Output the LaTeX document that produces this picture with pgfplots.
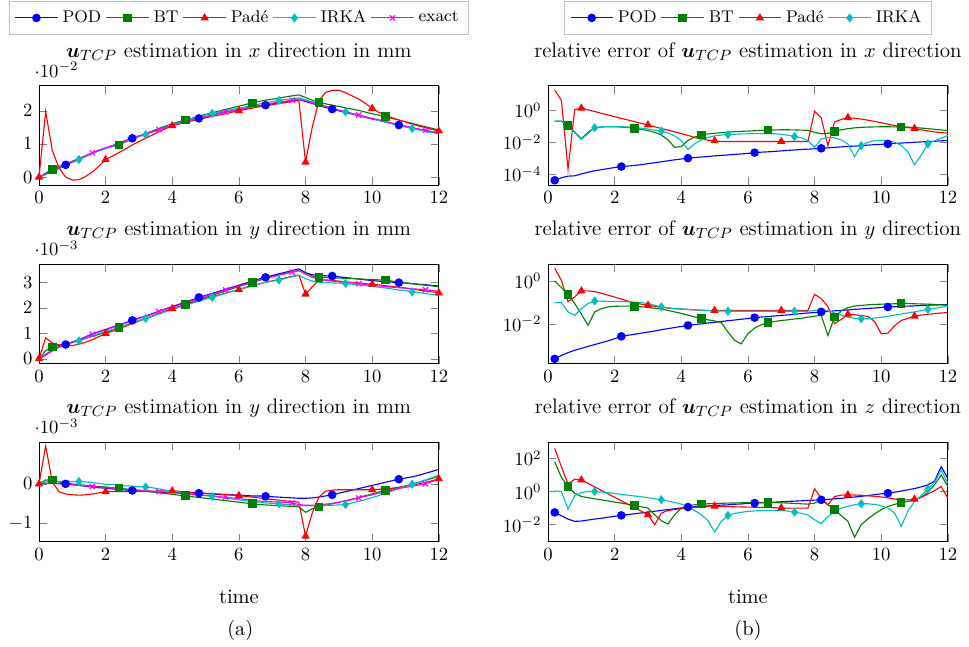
\documentclass[border=0pt]{standalone}
\usepackage{amsmath}
\usepackage{pgfplots}
\usepackage{pgfplotstable}
\pgfplotsset{compat=1.18}
\definecolor{cbt}{rgb}{0,0.5,0}
\definecolor{cirka}{rgb}{0,0.75,0.75}
\definecolor{cex}{rgb}{1,0,1}

\pgfplotstableread{
t POD BT Pade IRKA exact
0 0 0 0 0 0
0.2 0.0009 0.0012 0.0198 0.0008 0.0009
0.4 0.0018 0.0023 0.0080 0.0016 0.0018
0.6 0.0027 0.0032 0.0028 0.0025 0.0027
0.8 0.0037 0.0040 0.0000 0.0035 0.0037
1.0 0.0046 0.0048 -0.0009 0.0044 0.0046
1.2 0.0055 0.0056 -0.0008 0.0053 0.0055
1.4 0.0064 0.0064 0.0002 0.0062 0.0064
1.6 0.0073 0.0072 0.0015 0.0071 0.0073
1.8 0.0081 0.0080 0.0033 0.0079 0.0081
2.0 0.0088 0.0087 0.0053 0.0086 0.0088
2.2 0.0095 0.0092 0.0063 0.0093 0.0095
2.4 0.0102 0.0097 0.0074 0.0100 0.0102
2.6 0.0110 0.0106 0.0085 0.0108 0.0110
2.8 0.0117 0.0115 0.0097 0.0115 0.0117
3.0 0.0124 0.0123 0.0107 0.0122 0.0124
3.2 0.0130 0.0131 0.0117 0.0128 0.0130
3.4 0.0137 0.0139 0.0127 0.0136 0.0137
3.6 0.0144 0.0147 0.0137 0.0144 0.0144
3.8 0.0150 0.0154 0.0146 0.0151 0.0150
4.0 0.0156 0.0161 0.0155 0.0158 0.0156
4.2 0.0162 0.0167 0.0160 0.0164 0.0162
4.4 0.0167 0.0172 0.0165 0.0170 0.0167
4.6 0.0172 0.0178 0.0170 0.0176 0.0172
4.8 0.0177 0.0184 0.0174 0.0181 0.0177
5.0 0.0182 0.0189 0.0179 0.0187 0.0182
5.2 0.0187 0.0194 0.0183 0.0192 0.0187
5.4 0.0192 0.0199 0.0187 0.0196 0.0192
5.6 0.0196 0.0204 0.0191 0.0200 0.0196
5.8 0.0200 0.0209 0.0196 0.0204 0.0200
6.0 0.0204 0.0214 0.0200 0.0208 0.0204
6.2 0.0208 0.0219 0.0204 0.0212 0.0208
6.4 0.0212 0.0224 0.0208 0.0216 0.0212
6.6 0.0214 0.0228 0.0212 0.0220 0.0216
6.8 0.0217 0.0232 0.0215 0.0224 0.0219
7.0 0.0221 0.0235 0.0218 0.0228 0.0223
7.2 0.0224 0.0238 0.0222 0.0231 0.0226
7.4 0.0227 0.0242 0.0225 0.0234 0.0229
7.6 0.0230 0.0245 0.0228 0.0236 0.0232
7.8 0.0234 0.0248 0.0231 0.0239 0.0235
8.0 0.0228 0.0240 0.0045 0.0233 0.0230
8.2 0.0222 0.0232 0.0150 0.0227 0.0225
8.4 0.0216 0.0225 0.0230 0.0221 0.0220
8.6 0.0210 0.0221 0.0255 0.0214 0.0213
8.8 0.0205 0.0217 0.0262 0.0208 0.0207
9.0 0.0200 0.0213 0.0262 0.0202 0.0202
9.2 0.0195 0.0209 0.0255 0.0197 0.0197
9.4 0.0190 0.0205 0.0245 0.0191 0.0192
9.6 0.0185 0.0201 0.0235 0.0186 0.0187
9.8 0.0180 0.0196 0.0222 0.0181 0.0182
10.0 0.0175 0.0191 0.0207 0.0176 0.0177
10.2 0.0171 0.0187 0.0195 0.0171 0.0173
10.4 0.0166 0.0182 0.0187 0.0166 0.0168
10.6 0.0161 0.0177 0.0179 0.0161 0.0163
10.8 0.0157 0.0172 0.0172 0.0156 0.0158
11.0 0.0153 0.0167 0.0166 0.0151 0.0154
11.2 0.0148 0.0162 0.0160 0.0147 0.0149
11.4 0.0144 0.0157 0.0154 0.0142 0.0145
11.6 0.0140 0.0152 0.0149 0.0138 0.0141
11.8 0.0136 0.0147 0.0144 0.0134 0.0137
12.0 0.0133 0.0142 0.0139 0.0131 0.0134
}\tabTL

\pgfplotstableread{
t POD BT Pade IRKA exact
0 0 0 0 0 0
0.2 0.00017 0.00032 0.00082 0.00014 0.00015
0.4 0.00034 0.00046 0.00062 0.00030 0.00032
0.6 0.00047 0.00052 0.00055 0.00045 0.00045
0.8 0.00056 0.00058 0.00052 0.00055 0.00056
1.0 0.00066 0.00065 0.00052 0.00063 0.00065
1.2 0.00075 0.00072 0.00057 0.00070 0.00073
1.4 0.00086 0.00080 0.00065 0.00080 0.00084
1.6 0.00098 0.00088 0.00075 0.00090 0.00096
1.8 0.00107 0.00096 0.00087 0.00099 0.00105
2.0 0.00115 0.00104 0.00099 0.00107 0.00113
2.2 0.00124 0.00113 0.00108 0.00115 0.00122
2.4 0.00133 0.00122 0.00118 0.00123 0.00131
2.6 0.00142 0.00131 0.00128 0.00132 0.00140
2.8 0.00151 0.00140 0.00138 0.00141 0.00149
3.0 0.00160 0.00149 0.00148 0.00150 0.00158
3.2 0.00168 0.00158 0.00158 0.00158 0.00166
3.4 0.00177 0.00167 0.00168 0.00167 0.00175
3.6 0.00187 0.00177 0.00178 0.00176 0.00186
3.8 0.00196 0.00186 0.00188 0.00185 0.00194
4.0 0.00205 0.00196 0.00197 0.00194 0.00202
4.2 0.00214 0.00205 0.00205 0.00202 0.00211
4.4 0.00223 0.00214 0.00213 0.00210 0.00219
4.6 0.00232 0.00223 0.00221 0.00218 0.00228
4.8 0.00241 0.00232 0.00229 0.00226 0.00238
5.0 0.00249 0.00241 0.00236 0.00234 0.00246
5.2 0.00257 0.00250 0.00244 0.00241 0.00254
5.4 0.00265 0.00258 0.00251 0.00249 0.00262
5.6 0.00273 0.00267 0.00258 0.00257 0.00270
5.8 0.00281 0.00275 0.00265 0.00265 0.00278
6.0 0.00289 0.00284 0.00272 0.00273 0.00286
6.2 0.00297 0.00292 0.00279 0.00281 0.00293
6.4 0.00305 0.00300 0.00286 0.00288 0.00301
6.6 0.00313 0.00308 0.00293 0.00294 0.00309
6.8 0.00320 0.00316 0.00300 0.00300 0.00316
7.0 0.00327 0.00323 0.00306 0.00305 0.00322
7.2 0.00334 0.00330 0.00312 0.00309 0.00328
7.4 0.00340 0.00336 0.00318 0.00316 0.00334
7.6 0.00347 0.00342 0.00324 0.00322 0.00340
7.8 0.00353 0.00347 0.00329 0.00328 0.00346
8.0 0.00338 0.00335 0.00254 0.00315 0.00333
8.2 0.00330 0.00325 0.00282 0.00305 0.00320
8.4 0.00327 0.00320 0.00309 0.00300 0.00312
8.6 0.00326 0.00319 0.00310 0.00299 0.00308
8.8 0.00325 0.00318 0.00308 0.00298 0.00305
9.0 0.00322 0.00317 0.00305 0.00297 0.00302
9.2 0.00319 0.00316 0.00302 0.00296 0.00300
9.4 0.00316 0.00315 0.00300 0.00293 0.00298
9.6 0.00313 0.00314 0.00298 0.00290 0.00295
9.8 0.00310 0.00312 0.00295 0.00287 0.00292
10.0 0.00307 0.00311 0.00293 0.00284 0.00289
10.2 0.00305 0.00310 0.00290 0.00281 0.00286
10.4 0.00303 0.00309 0.00287 0.00278 0.00284
10.6 0.00301 0.00305 0.00284 0.00274 0.00281
10.8 0.00299 0.00301 0.00281 0.00270 0.00279
11.0 0.00297 0.00298 0.00278 0.00267 0.00277
11.2 0.00295 0.00295 0.00274 0.00263 0.00275
11.4 0.00293 0.00292 0.00270 0.00260 0.00273
11.6 0.00291 0.00289 0.00266 0.00256 0.00271
11.8 0.00288 0.00286 0.00263 0.00253 0.00268
12.0 0.00286 0.00283 0.00259 0.00250 0.00265
}\tabML

\pgfplotstableread{
t POD BT Pade IRKA exact
0 0 0 0 0 0
0.2 0.00002 0.00010 0.00097 0.00005 0.00001
0.4 0.00002 0.00010 0.00005 0.00006 0.00001
0.6 0.00001 0.00005 -0.00020 0.00006 0
0.8 0 0.00002 -0.00026 0.00006 -0.00001
1.0 -0.00002 0 -0.00028 0.00006 -0.00002
1.2 -0.00004 -0.00002 -0.00029 0.00006 -0.00004
1.4 -0.00006 -0.00004 -0.00028 0.00005 -0.00005
1.6 -0.00008 -0.00005 -0.00026 0.00003 -0.00007
1.8 -0.00010 -0.00007 -0.00023 0.00001 -0.00008
2.0 -0.00011 -0.00008 -0.00020 -0.00001 -0.00010
2.2 -0.00013 -0.00010 -0.00020 -0.00002 -0.00011
2.4 -0.00014 -0.00011 -0.00020 -0.00004 -0.00013
2.6 -0.00016 -0.00013 -0.00020 -0.00005 -0.00014
2.8 -0.00017 -0.00015 -0.00019 -0.00006 -0.00015
3.0 -0.00018 -0.00017 -0.00019 -0.00007 -0.00016
3.2 -0.00019 -0.00019 -0.00019 -0.00008 -0.00017
3.4 -0.00020 -0.00021 -0.00019 -0.00010 -0.00019
3.6 -0.00021 -0.00023 -0.00018 -0.00013 -0.00020
3.8 -0.00022 -0.00025 -0.00018 -0.00016 -0.00021
4.0 -0.00022 -0.00027 -0.00018 -0.00019 -0.00022
4.2 -0.00023 -0.00029 -0.00019 -0.00021 -0.00024
4.4 -0.00023 -0.00030 -0.00021 -0.00024 -0.00025
4.6 -0.00024 -0.00033 -0.00022 -0.00026 -0.00027
4.8 -0.00024 -0.00035 -0.00023 -0.00028 -0.00028
5.0 -0.00025 -0.00037 -0.00024 -0.00030 -0.00030
5.2 -0.00026 -0.00039 -0.00025 -0.00032 -0.00031
5.4 -0.00027 -0.00041 -0.00026 -0.00034 -0.00033
5.6 -0.00028 -0.00043 -0.00027 -0.00037 -0.00034
5.8 -0.00028 -0.00045 -0.00029 -0.00039 -0.00036
6.0 -0.00029 -0.00047 -0.00030 -0.00041 -0.00038
6.2 -0.00030 -0.00049 -0.00032 -0.00043 -0.00040
6.4 -0.00031 -0.00051 -0.00034 -0.00045 -0.00042
6.6 -0.00031 -0.00053 -0.00036 -0.00047 -0.00044
6.8 -0.00032 -0.00054 -0.00038 -0.00049 -0.00045
7.0 -0.00033 -0.00055 -0.00040 -0.00050 -0.00046
7.2 -0.00034 -0.00056 -0.00042 -0.00051 -0.00047
7.4 -0.00035 -0.00057 -0.00044 -0.00053 -0.00048
7.6 -0.00036 -0.00058 -0.00045 -0.00054 -0.00049
7.8 -0.00037 -0.00059 -0.00047 -0.00055 -0.00053
8.0 -0.00037 -0.00073 -0.00134 -0.00056 -0.00055
8.2 -0.00036 -0.00064 -0.00075 -0.00056 -0.00055
8.4 -0.00034 -0.00059 -0.00034 -0.00056 -0.00054
8.6 -0.00031 -0.00055 -0.00019 -0.00055 -0.00052
8.8 -0.00028 -0.00051 -0.00016 -0.00055 -0.00050
9.0 -0.00024 -0.00047 -0.00015 -0.00054 -0.00047
9.2 -0.00020 -0.00043 -0.00015 -0.00053 -0.00044
9.4 -0.00016 -0.00039 -0.00015 -0.00049 -0.00040
9.6 -0.00012 -0.00035 -0.00015 -0.00045 -0.00036
9.8 -0.00008 -0.00030 -0.00015 -0.00040 -0.00032
10.0 -0.00004 -0.00026 -0.00015 -0.00035 -0.00028
10.2 0 -0.00021 -0.00014 -0.00030 -0.00024
10.4 0.00004 -0.00017 -0.00013 -0.00024 -0.00020
10.6 0.00008 -0.00013 -0.00011 -0.00018 -0.00016
10.8 0.00012 -0.00009 -0.00009 -0.00012 -0.00012
11.0 0.00015 -0.00005 -0.00006 -0.00006 -0.00009
11.2 0.00018 -0.00001 -0.00003 -0.00001 -0.00006
11.4 0.00022 0.00004 0 0.00004 -0.00003
11.6 0.00027 0.00009 0.00004 0.00010 0
11.8 0.00032 0.00014 0.00008 0.00016 0.00006
12.0 0.00037 0.00020 0.00013 0.00023 0.00012
}\tabBL

\pgfplotstableread{
t POD BT Pade IRKA
0.2 4.17e-5 0.204 18.2 0.204
0.4 6.03e-5 0.204 4.27 0.204
0.6 7.59e-5 0.112 2.09e-4 0.112
0.8 7.94e-5 4.27e-2 1.10 3.98e-2
1.0 1.05e-4 1.62e-2 1.35 1.48e-2
1.2 1.32e-4 4.27e-2 1.07 3.55e-2
1.4 1.66e-4 8.13e-2 0.832 8.13e-2
1.6 1.91e-4 8.91e-2 0.646 9.33e-2
1.8 2.24e-4 9.33e-2 0.513 9.55e-2
2.0 2.63e-4 9.33e-2 0.398 9.55e-2
2.2 3.02e-4 8.91e-2 0.309 9.33e-2
2.4 3.24e-4 8.32e-2 0.245 8.91e-2
2.6 3.55e-4 7.08e-2 0.191 8.32e-2
2.8 3.98e-4 6.31e-2 0.151 7.59e-2
3.0 4.57e-4 5.37e-2 0.120 6.76e-2
3.2 5.25e-4 4.17e-2 9.33e-2 5.75e-2
3.4 6.03e-4 2.82e-2 7.24e-2 5.01e-2
3.6 6.92e-4 1.41e-2 5.75e-2 3.80e-2
3.8 7.94e-4 4.79e-3 4.47e-2 2.51e-2
4.0 8.91e-4 5.37e-3 3.47e-2 1.26e-2
4.2 1.02e-3 1.29e-2 2.69e-2 3.47e-3
4.4 1.10e-3 2.09e-2 2.00e-2 7.94e-3
4.6 1.20e-3 2.88e-2 1.58e-2 1.41e-2
4.8 1.29e-3 3.31e-2 1.35e-2 2.00e-2
5.0 1.41e-3 3.63e-2 1.23e-2 2.51e-2
5.2 1.51e-3 3.98e-2 1.12e-2 2.82e-2
5.4 1.62e-3 4.27e-2 1.12e-2 3.02e-2
5.6 1.74e-3 4.57e-2 1.12e-2 3.16e-2
5.8 1.86e-3 4.79e-2 1.12e-2 3.31e-2
6.0 2.00e-3 5.01e-2 1.12e-2 3.39e-2
6.2 2.24e-3 5.25e-2 1.12e-2 3.47e-2
6.4 2.40e-3 5.50e-2 1.12e-2 3.47e-2
6.6 2.51e-3 5.75e-2 1.12e-2 3.47e-2
6.8 2.69e-3 5.89e-2 1.12e-2 3.39e-2
7.0 2.88e-3 6.03e-2 1.12e-2 3.16e-2
7.2 3.09e-3 6.03e-2 1.12e-2 2.75e-2
7.4 3.31e-3 5.89e-2 1.12e-2 2.29e-2
7.6 3.55e-3 5.75e-2 1.12e-2 1.91e-2
7.8 3.72e-3 5.50e-2 1.12e-2 1.26e-2
8.0 3.89e-3 4.17e-2 0.871 4.79e-3
8.2 4.17e-3 3.39e-2 0.331 1.62e-2
8.4 4.47e-3 3.63e-2 6.17e-3 2.00e-2
8.6 4.79e-3 4.68e-2 0.182 1.91e-2
8.8 5.13e-3 6.03e-2 0.269 1.41e-2
9.0 5.50e-3 7.08e-2 0.347 7.94e-3
9.2 5.75e-3 7.94e-2 0.316 1.26e-3
9.4 6.17e-3 8.51e-2 0.282 6.17e-3
9.6 6.61e-3 8.91e-2 0.240 1.00e-2
9.8 7.08e-3 9.12e-2 0.200 1.26e-2
10.0 7.41e-3 9.33e-2 0.166 1.32e-2
10.2 7.94e-3 9.33e-2 0.135 1.26e-2
10.4 8.32e-3 9.12e-2 0.112 1.00e-2
10.6 8.91e-3 8.91e-2 9.55e-2 6.31e-3
10.8 9.33e-3 8.71e-2 8.32e-2 2.51e-3
11.0 1.00e-2 8.32e-2 7.24e-2 3.89e-4
11.2 1.05e-2 7.76e-2 6.03e-2 1.58e-3
11.4 1.10e-2 7.08e-2 5.13e-2 7.94e-3
11.6 1.15e-2 6.46e-2 4.47e-2 1.26e-2
11.8 1.23e-2 5.89e-2 3.98e-2 1.78e-2
12.0 1.29e-2 5.50e-2 3.72e-2 2.63e-2
}\tabTR

\pgfplotstableread{
t POD BT Pade IRKA
0.2 2.29e-4 1.00 3.80 9.55e-2
0.4 3.31e-4 0.490 1.07 9.55e-2
0.6 4.47e-4 0.229 0.105 3.55e-2
0.8 5.75e-4 8.71e-2 0.178 2.45e-2
1.0 7.08e-4 2.82e-2 0.339 5.01e-2
1.2 8.71e-4 8.32e-3 0.339 8.71e-2
1.4 1.07e-3 3.55e-2 0.316 0.115
1.6 1.29e-3 5.01e-2 0.263 0.112
1.8 1.58e-3 6.03e-2 0.214 0.110
2.0 2.00e-3 6.46e-2 0.174 0.110
2.2 2.57e-3 6.61e-2 0.141 0.107
2.4 2.88e-3 6.61e-2 0.112 0.105
2.6 3.24e-3 6.46e-2 9.33e-2 0.100
2.8 3.63e-3 6.17e-2 8.13e-2 9.55e-2
3.0 4.07e-3 5.75e-2 7.24e-2 8.71e-2
3.2 4.57e-3 5.25e-2 6.46e-2 7.24e-2
3.4 5.25e-3 4.79e-2 5.89e-2 6.03e-2
3.6 5.89e-3 4.17e-2 5.37e-2 5.50e-2
3.8 6.61e-3 3.55e-2 5.01e-2 5.13e-2
4.0 7.41e-3 3.02e-2 4.79e-2 4.90e-2
4.2 8.32e-3 2.51e-2 4.57e-2 4.68e-2
4.4 9.12e-3 2.09e-2 4.37e-2 4.47e-2
4.6 9.77e-3 1.70e-2 4.27e-2 4.27e-2
4.8 1.07e-2 1.51e-2 4.17e-2 4.07e-2
5.0 1.17e-2 1.35e-2 4.17e-2 3.98e-2
5.2 1.26e-2 1.12e-2 4.17e-2 3.89e-2
5.4 1.38e-2 4.07e-3 4.17e-2 3.80e-2
5.6 1.48e-2 1.66e-3 4.17e-2 3.80e-2
5.8 1.62e-2 1.15e-3 4.17e-2 3.80e-2
6.0 1.74e-2 3.39e-3 4.17e-2 3.80e-2
6.2 1.91e-2 6.31e-3 4.17e-2 3.80e-2
6.4 2.04e-2 8.91e-3 4.17e-2 3.80e-2
6.6 2.14e-2 1.12e-2 4.17e-2 3.80e-2
6.8 2.29e-2 1.26e-2 4.17e-2 3.80e-2
7.0 2.45e-2 1.41e-2 4.17e-2 3.80e-2
7.2 2.57e-2 1.51e-2 4.17e-2 3.80e-2
7.4 2.75e-2 1.66e-2 4.17e-2 3.80e-2
7.6 2.95e-2 1.78e-2 4.17e-2 3.80e-2
7.8 3.16e-2 2.00e-2 4.17e-2 3.80e-2
8.0 3.31e-2 2.24e-2 0.234 4.17e-2
8.2 3.55e-2 2.45e-2 0.148 4.57e-2
8.4 3.72e-2 2.82e-3 6.31e-2 3.98e-2
8.6 3.98e-2 2.04e-2 1.00e-2 3.16e-2
8.8 4.17e-2 3.98e-2 1.58e-2 2.51e-2
9.0 4.37e-2 5.62e-2 2.75e-2 2.00e-2
9.2 4.68e-2 6.61e-2 2.63e-2 1.78e-2
9.4 4.90e-2 7.08e-2 2.40e-2 1.70e-2
9.6 5.13e-2 7.59e-2 2.19e-2 1.70e-2
9.8 5.37e-2 7.94e-2 1.26e-2 1.82e-2
10.0 5.75e-2 8.13e-2 3.39e-3 2.00e-2
10.2 6.03e-2 8.32e-2 3.63e-3 2.19e-2
10.4 6.17e-2 8.51e-2 7.94e-3 2.51e-2
10.6 6.46e-2 8.71e-2 1.41e-2 2.82e-2
10.8 6.61e-2 8.71e-2 1.78e-2 3.16e-2
11.0 6.76e-2 8.51e-2 2.24e-2 3.55e-2
11.2 7.08e-2 8.32e-2 2.51e-2 4.07e-2
11.4 7.24e-2 8.13e-2 2.75e-2 4.68e-2
11.6 7.41e-2 7.94e-2 2.95e-2 5.25e-2
11.8 7.59e-2 7.59e-2 3.16e-2 5.89e-2
12.0 7.76e-2 7.24e-2 3.31e-2 6.46e-2
}\tabMR

\pgfplotstableread{
t POD BT Pade IRKA
0.2 5.50e-2 63.1 398 1.10
0.4 3.47e-2 7.24 31.6 1.00
0.6 2.19e-2 2.00 2.82 8.71e-2
0.8 1.58e-2 0.794 5.50 0.550
1.0 1.66e-2 0.501 5.01 0.871
1.2 1.91e-2 0.427 3.09 1.00
1.4 2.19e-2 0.363 1.91 1.00
1.6 2.45e-2 0.316 1.17 0.933
1.8 2.82e-2 0.269 0.724 0.851
2.0 3.16e-2 0.229 0.447 0.759
2.2 3.63e-2 0.200 0.275 0.676
2.4 4.07e-2 0.170 0.170 0.603
2.6 4.57e-2 0.145 0.105 0.537
2.8 5.13e-2 0.120 6.46e-2 0.479
3.0 5.75e-2 0.100 3.98e-2 0.417
3.2 6.46e-2 3.98e-2 1.00e-2 0.363
3.4 7.24e-2 1.74e-2 5.01e-2 0.316
3.6 8.13e-2 1.10e-2 7.08e-2 0.263
3.8 9.12e-2 3.98e-2 8.32e-2 0.219
4.0 0.102 0.100 9.12e-2 0.174
4.2 0.115 0.141 0.100 0.126
4.4 0.120 0.158 0.110 7.08e-2
4.6 0.129 0.174 0.120 3.98e-2
4.8 0.135 0.182 0.132 1.78e-2
5.0 0.145 0.191 0.132 3.63e-3
5.2 0.151 0.195 0.126 1.58e-2
5.4 0.158 0.200 0.123 3.63e-2
5.6 0.170 0.204 0.120 4.79e-2
5.8 0.178 0.209 0.117 5.62e-2
6.0 0.191 0.214 0.115 6.31e-2
6.2 0.200 0.219 0.112 6.76e-2
6.4 0.209 0.219 0.110 7.08e-2
6.6 0.219 0.219 0.107 7.24e-2
6.8 0.229 0.214 0.105 7.24e-2
7.0 0.240 0.209 0.102 7.08e-2
7.2 0.251 0.200 0.100 6.61e-2
7.4 0.263 0.191 0.100 5.75e-2
7.6 0.275 0.182 0.100 4.79e-2
7.8 0.288 0.174 0.100 3.80e-2
8.0 0.302 0.200 1.45 2.00e-2
8.2 0.316 0.316 0.398 1.15e-2
8.4 0.339 0.158 0.158 3.16e-2
8.6 0.363 7.94e-2 0.501 6.31e-2
8.8 0.389 3.55e-2 0.603 0.100
9.0 0.427 1.58e-2 0.631 0.132
9.2 0.468 1.74e-3 0.617 0.158
9.4 0.513 1.00e-2 0.589 0.182
9.6 0.575 2.24e-2 0.550 0.182
9.8 0.646 4.47e-2 0.513 0.166
10.0 0.724 7.94e-2 0.468 0.141
10.2 0.794 0.126 0.417 0.100
10.4 0.912 0.166 0.355 5.01e-2
10.6 1.07 0.219 0.316 7.94e-3
10.8 1.26 0.251 0.316 6.31e-2
11.0 1.51 0.302 0.347 0.251
11.2 1.91 0.447 0.447 0.562
11.4 2.51 0.891 0.708 1.38
11.6 4.17 2.51 1.12 3.55
11.8 31.6 10.0 2.00 20.0
12.0 6.31 2.00 0.398 3.16
}\tabBR

\pgfplotsset{
  panel/.style={
    scale only axis, width=214.6pt, height=53.4pt,
    anchor=north west,
    xmin=0, xmax=12, xtick={0,2,4,6,8,10,12},
    every axis title/.style={at={(0.5,1)}, anchor=base, yshift=15.3pt, font=\fontsize{11.3}{13.5}\selectfont},
    every y tick scale label/.style={at={(axis description cs:0,1)}, anchor=base west, inner sep=0pt, xshift=-2.5pt, yshift=4.4pt},
    legend image code/.code={\draw[##1,mark repeat=2,mark phase=2] plot coordinates {(0cm,0cm) (0.4cm,0cm) (0.8cm,0cm)};},
    legend style={at={(0.5,1)}, anchor=south, yshift=27.1pt, draw=black!25,
      font=\fontsize{9.1}{11}\selectfont,
      nodes={inner xsep=2.35pt, inner ysep=3pt, text depth=0.15em}},
    xlabel style={yshift=-9pt, font=\fontsize{10.95}{13}\selectfont},
    every axis plot/.append style={line width=0.6pt},
  },
  sPOD/.style={color=blue, mark=*, mark repeat=10, mark phase=#1},
  sBT/.style={color=cbt, mark=square*, mark repeat=10, mark phase=#1},
  sPade/.style={color=red, mark=triangle*, mark repeat=10, mark phase=#1},
  sIRKA/.style={color=cirka, mark=diamond*, mark repeat=10, mark phase=#1},
  sEX/.style={color=cex, mark=x, mark repeat=10, mark phase=#1},
}

\begin{document}
\begin{tikzpicture}
\useasboundingbox (0,0) rectangle (520.1pt,346.8pt);

% ---- left column ----
\begin{axis}[panel, at={(20.93pt,300.86pt)},
  title={$\boldsymbol{u}_{TCP}$ estimation in $x$ direction in mm},
  ymin=-0.0024, ymax=0.0276, ytick={0,0.01,0.02}, scaled y ticks=base 10:2,
  legend columns=5]
\addplot[sPOD=5] table[x=t,y=POD]{\tabTL};
\addplot[sBT=3] table[x=t,y=BT]{\tabTL};
\addplot[sPade=1] table[x=t,y=Pade]{\tabTL};
\addplot[sIRKA=7] table[x=t,y=IRKA]{\tabTL};
\addplot[sEX=9] table[x=t,y=exact]{\tabTL};
\legend{POD,BT,Pad\'e,IRKA,exact}
\end{axis}

\begin{axis}[panel, at={(20.93pt,205.05pt)},
  title={$\boldsymbol{u}_{TCP}$ estimation in $y$ direction in mm},
  ymin=-0.00019, ymax=0.00372, ytick={0,0.001,0.002,0.003}, scaled y ticks=base 10:3]
\addplot[sPOD=5] table[x=t,y=POD]{\tabML};
\addplot[sBT=3] table[x=t,y=BT]{\tabML};
\addplot[sPade=1] table[x=t,y=Pade]{\tabML};
\addplot[sIRKA=7] table[x=t,y=IRKA]{\tabML};
\addplot[sEX=9] table[x=t,y=exact]{\tabML};
\end{axis}

\begin{axis}[panel, at={(20.93pt,109.5pt)},
  title={$\boldsymbol{u}_{TCP}$ estimation in $y$ direction in mm},
  ymin=-0.00148, ymax=0.00107, ytick={-0.001,0}, scaled y ticks=base 10:3,
  xlabel={time}]
\addplot[sPOD=5] table[x=t,y=POD]{\tabBL};
\addplot[sBT=3] table[x=t,y=BT]{\tabBL};
\addplot[sPade=1] table[x=t,y=Pade]{\tabBL};
\addplot[sIRKA=7] table[x=t,y=IRKA]{\tabBL};
\addplot[sEX=9] table[x=t,y=exact]{\tabBL};
\end{axis}

% ---- right column ----
\begin{semilogyaxis}[panel, yminorticks=false, at={(294.15pt,300.86pt)},
  title={relative error of $\boldsymbol{u}_{TCP}$ estimation in $x$ direction},
  ymin=2.1e-5, ymax=35, ytick={1e-4,1e-2,1},
  legend columns=4]
\addplot[sPOD=1] table[x=t,y=POD]{\tabTR};
\addplot[sBT=3] table[x=t,y=BT]{\tabTR};
\addplot[sPade=5] table[x=t,y=Pade]{\tabTR};
\addplot[sIRKA=7] table[x=t,y=IRKA]{\tabTR};
\legend{POD,BT,Pad\'e,IRKA}
\end{semilogyaxis}

\begin{semilogyaxis}[panel, yminorticks=false, at={(294.15pt,205.05pt)},
  title={relative error of $\boldsymbol{u}_{TCP}$ estimation in $y$ direction},
  ymin=1.38e-4, ymax=6.03, ytick={1e-2,1}]
\addplot[sPOD=1] table[x=t,y=POD]{\tabMR};
\addplot[sBT=3] table[x=t,y=BT]{\tabMR};
\addplot[sPade=5] table[x=t,y=Pade]{\tabMR};
\addplot[sIRKA=7] table[x=t,y=IRKA]{\tabMR};
\end{semilogyaxis}

\begin{semilogyaxis}[panel, yminorticks=false, at={(294.15pt,109.5pt)},
  title={relative error of $\boldsymbol{u}_{TCP}$ estimation in $z$ direction},
  ymin=9.55e-4, ymax=955, ytick={1e-2,1,1e2},
  xlabel={time}]
\addplot[sPOD=1] table[x=t,y=POD]{\tabBR};
\addplot[sBT=3] table[x=t,y=BT]{\tabBR};
\addplot[sPade=5] table[x=t,y=Pade]{\tabBR};
\addplot[sIRKA=7] table[x=t,y=IRKA]{\tabBR};
\end{semilogyaxis}

\node[font=\fontsize{10.95}{13}\selectfont] at (129pt,8.6pt) {(a)};
\node[font=\fontsize{10.95}{13}\selectfont] at (401.5pt,8.6pt) {(b)};
\end{tikzpicture}
\end{document}
